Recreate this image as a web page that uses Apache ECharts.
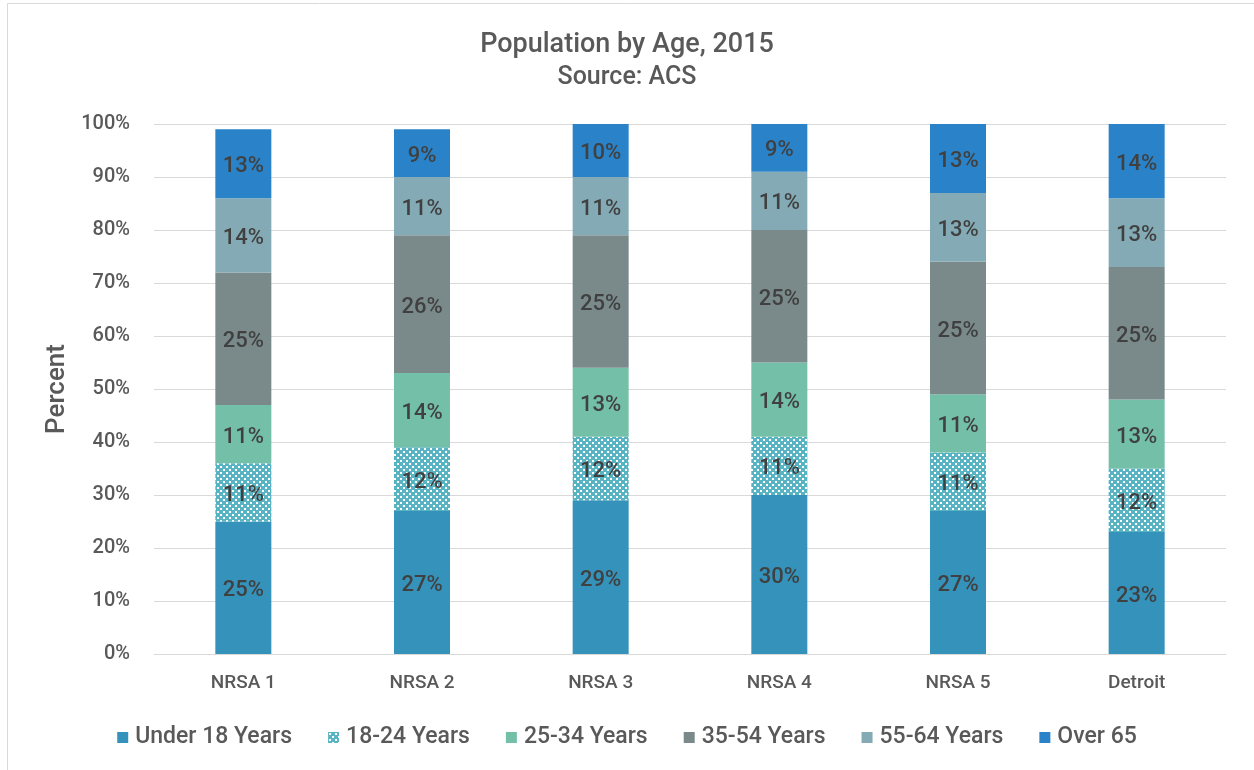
<!DOCTYPE html>
<html>
<head>
<meta charset="utf-8">
<script src="https://cdn.jsdelivr.net/npm/echarts@6/dist/echarts.min.js"></script>
<style>
html,body{margin:0;padding:0;background:#fff;}
#chart{width:1254px;height:770px;}
</style>
</head>
<body>
<div id="chart"></div>
<script>
const categories = ['NRSA 1', 'NRSA 2', 'NRSA 3', 'NRSA 4', 'NRSA 5', 'Detroit'];
const under18 = [25, 27, 29, 30, 27, 23];
const age18to24 = [11, 12, 12, 11, 11, 12];
const age25to34 = [11, 14, 13, 14, 11, 13];
const age35to54 = [25, 26, 25, 25, 25, 25];
const age55to64 = [14, 11, 11, 11, 13, 13];
const over65 = [13, 9, 10, 9, 13, 14];
const seriesNames = ['Under 18 Years', '18-24 Years', '25-34 Years', '35-54 Years', '55-64 Years', 'Over 65'];
const yTicks = [0, 10, 20, 30, 40, 50, 60, 70, 80, 90, 100];

const FONT = 'Roboto, "Noto Sans", sans-serif';

function dotPattern() {
  const c = document.createElement('canvas');
  c.width = 6; c.height = 6;
  const g = c.getContext('2d');
  g.fillStyle = '#58B3C2';
  g.fillRect(0, 0, 6, 6);
  g.fillStyle = '#ffffff';
  g.fillRect(1, 1, 2, 2);
  g.fillRect(4, 4, 2, 2);
  return c;
}

const pattern = {image: dotPattern(), repeat: 'repeat'};
const colors = ['#3592BA', pattern, '#74BFA7', '#7A8A8A', '#84ABB5', '#2A83C8'];
const dataSets = [under18, age18to24, age25to34, age35to54, age55to64, over65];

const chart = echarts.init(document.getElementById('chart'), null, {renderer: 'canvas'});

const series = dataSets.map((d, i) => ({
  name: seriesNames[i],
  type: 'bar',
  stack: 'total',
  barWidth: 56,
  data: d,
  itemStyle: {color: colors[i]},
  label: {
    show: true,
    position: 'inside',
    offset: [0, 3],
    formatter: '{c}%',
    fontFamily: FONT,
    fontSize: 22,
    fontWeight: 500,
    color: '#404040'
  },
  emphasis: {disabled: true}
}));

chart.setOption({
  animation: false,
  backgroundColor: '#ffffff',
  textStyle: {fontFamily: FONT},
  title: {
    text: 'Population by Age, 2015',
    subtext: 'Source: ACS',
    left: 'center',
    top: 27,
    itemGap: 6,
    textStyle: {fontFamily: FONT, fontSize: 27, fontWeight: 500, color: '#595959'},
    subtextStyle: {fontFamily: FONT, fontSize: 25, fontWeight: 500, color: '#595959'}
  },
  legend: {
    data: seriesNames,
    left: 'center',
    top: 721,
    itemWidth: 11,
    itemHeight: 11,
    itemGap: 36,
    icon: 'rect',
    textStyle: {fontFamily: FONT, fontSize: 23, fontWeight: 500, color: '#595959', padding: [0, 0, 0, 2]}
  },
  grid: {left: 154, right: 28, top: 124, bottom: 116, containLabel: false},
  xAxis: {
    type: 'category',
    data: categories,
    axisLine: {lineStyle: {color: '#d9d9d9', width: 1}},
    axisTick: {show: false},
    axisLabel: {fontFamily: FONT, fontSize: 19, fontWeight: 500, color: '#595959', margin: 20}
  },
  yAxis: {
    type: 'value',
    min: 0,
    max: 100,
    interval: 10,
    name: 'Percent',
    nameLocation: 'middle',
    nameGap: 82,
    nameTextStyle: {fontFamily: FONT, fontSize: 26, fontWeight: 500, color: '#595959'},
    axisLine: {show: false},
    axisTick: {show: false},
    splitLine: {lineStyle: {color: '#d9d9d9', width: 1}},
    axisLabel: {
      fontFamily: FONT, fontSize: 20, fontWeight: 500, color: '#595959', margin: 24,
      padding: [4, 0, 0, 0],
      formatter: v => yTicks.includes(v) ? v + '%' : ''
    }
  },
  graphic: [{
    type: 'rect',
    shape: {x: 7.5, y: 3.5, width: 1260, height: 780},
    style: {fill: 'none', stroke: '#d9d9d9', lineWidth: 1},
    silent: true,
    z: -10
  }],
  series: series
});
</script>
</body>
</html>
